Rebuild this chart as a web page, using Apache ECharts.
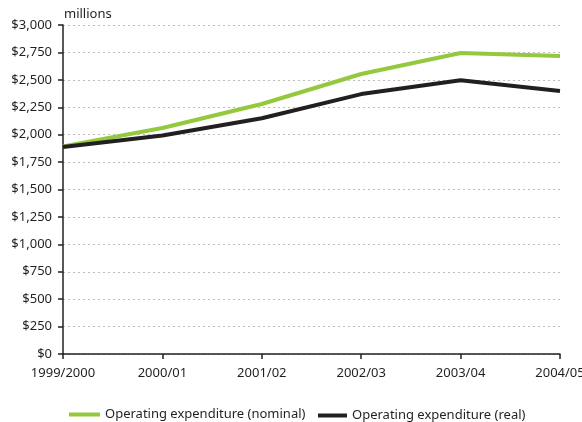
<!DOCTYPE html>
<html>
<head>
<meta charset="utf-8">
<script src="https://cdn.jsdelivr.net/npm/echarts@6/dist/echarts.min.js"></script>
<style>
  html, body { margin: 0; padding: 0; background: #fff; }
  #chart { width: 582px; height: 422px; }
</style>
</head>
<body>
<div id="chart"></div>
<script>
// Fiscal years on the horizontal axis
const years = ['1999/2000', '2000/01', '2001/02', '2002/03', '2003/04', '2004/05'];
// Operating expenditure, $ millions
const nominal = [1893, 2061, 2280, 2553, 2745, 2718];
const real = [1887, 1993, 2150, 2370, 2497, 2398];

const font = 'Noto Sans';
const green = '#94c83d';
const black = '#231f20';

const chart = echarts.init(document.getElementById('chart'));
chart.setOption({
  animation: false,
  textStyle: { fontFamily: font },
  grid: { left: 63, right: 22, top: 25, bottom: 68, containLabel: false, outerBoundsMode: 'none' },
  legend: [
    {
      data: ['Operating expenditure (nominal)'],
      left: 64, top: 403,
      icon: 'rect', itemWidth: 31, itemHeight: 4, itemGap: 7,
      textStyle: { fontFamily: font, fontSize: 13, color: '#231f20' }
    },
    {
      data: ['Operating expenditure (real)'],
      left: 313, top: 404,
      icon: 'rect', itemWidth: 29, itemHeight: 4, itemGap: 7,
      textStyle: { fontFamily: font, fontSize: 13, color: '#231f20' }
    }
  ],
  xAxis: {
    type: 'category',
    data: years,
    boundaryGap: false,
    axisLine: { lineStyle: { color: black, width: 1.5 } },
    axisTick: { show: true, length: 5, lineStyle: { color: black, width: 1.5 } },
    axisLabel: { color: '#231f20', fontSize: 13, margin: 13, interval: 0 },
    splitLine: { show: false }
  },
  yAxis: {
    type: 'value',
    min: 0, max: 3000, interval: 250,
    name: 'millions',
    nameLocation: 'end',
    nameGap: 4,
    nameTextStyle: { color: '#231f20', fontSize: 13, align: 'left', padding: [0, 0, 0, 1] },
    axisLine: { show: true, lineStyle: { color: black, width: 1.5 } },
    axisTick: { show: true, length: 5, lineStyle: { color: black, width: 1.5 } },
    axisLabel: {
      color: '#231f20', fontSize: 13, margin: 11,
      formatter: v => '$' + v.toLocaleString('en-US')
    },
    splitLine: { show: true, lineStyle: { color: '#bdbdbd', type: [2, 3], width: 1 } }
  },
  series: [
    {
      name: 'Operating expenditure (nominal)',
      type: 'line', data: nominal,
      symbol: 'none',
      itemStyle: { color: green },
      lineStyle: { color: green, width: 4 },
      z: 2
    },
    {
      name: 'Operating expenditure (real)',
      type: 'line', data: real,
      symbol: 'none',
      itemStyle: { color: black },
      lineStyle: { color: black, width: 4 },
      z: 3
    }
  ]
});
</script>
</body>
</html>
